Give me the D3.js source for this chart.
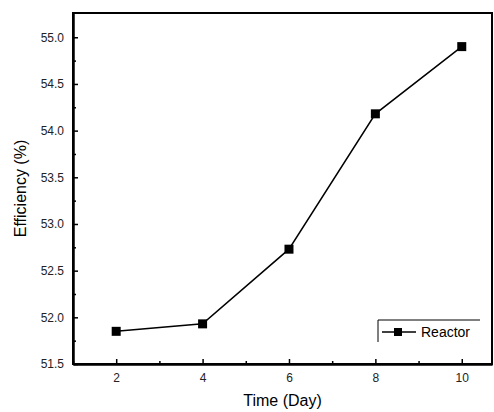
<!DOCTYPE html>
<html><head><meta charset="utf-8">
<script src="https://cdn.jsdelivr.net/npm/d3@7"></script>
<style>body{margin:0;background:#fff}</style>
</head><body><div id="plot"></div>
<script>
const days = [2, 4, 6, 8, 10];
const efficiency = [51.85, 51.93, 52.73, 54.18, 54.90];
const yTicks = [51.5, 52.0, 52.5, 53.0, 53.5, 54.0, 54.5, 55.0];
const xTicks = [2, 4, 6, 8, 10];

const W = 494, H = 412;
const margin = { top: 13, right: 2, bottom: 48, left: 73 };
const width = W - margin.left - margin.right;
const height = H - margin.top - margin.bottom;

const svg = d3.select("#plot").append("svg").attr("width", W).attr("height", H)
  .style("font-family", "Liberation Sans, Arial, sans-serif");
const g = svg.append("g").attr("transform", `translate(${margin.left},${margin.top})`);

const x = d3.scaleLinear().domain([1.0, 10.7]).range([0, width]);
const y = d3.scaleLinear().domain([51.5, 55.26]).range([height, 0]);

// minor ticks
const minorX = d3.range(1, 11, 1).filter(v => v % 2 === 1);
const minorY = d3.range(51.75, 55.2, 0.5);

g.append("g").attr("transform", `translate(0,${height})`)
  .call(d3.axisBottom(x).tickValues(xTicks).tickSizeInner(-5).tickSizeOuter(0).tickPadding(9).tickFormat(d3.format("d")));
g.append("g").attr("transform", `translate(0,${height})`)
  .call(d3.axisBottom(x).tickValues(minorX).tickSizeInner(-3).tickSizeOuter(0).tickFormat(""));
g.append("g")
  .call(d3.axisLeft(y).tickValues(yTicks).tickSizeInner(-5).tickSizeOuter(0).tickPadding(9).tickFormat(d3.format(".1f")));
g.append("g").call(d3.axisLeft(y).tickValues(minorY).tickSizeInner(-3).tickSizeOuter(0).tickFormat(""));

g.selectAll(".domain").attr("stroke-width", 2);
g.selectAll(".tick line").attr("stroke-width", 1.5);
g.selectAll(".tick text").attr("font-size", 12).attr("fill", "#222");

// frame top/right
g.append("rect").attr("width", width).attr("height", height)
  .attr("fill", "none").attr("stroke", "#000").attr("stroke-width", 2);

const pts = days.map((d, i) => [d, efficiency[i]]);
g.append("path").datum(pts)
  .attr("d", d3.line().x(d => x(d[0])).y(d => y(d[1])))
  .attr("fill", "none").attr("stroke", "#000").attr("stroke-width", 1.5);
g.selectAll(".pt").data(pts).enter().append("rect")
  .attr("x", d => x(d[0]) - 4.5).attr("y", d => y(d[1]) - 4.5)
  .attr("width", 9).attr("height", 9).attr("fill", "#000");

svg.append("text").attr("x", margin.left + width / 2).attr("y", 406)
  .attr("text-anchor", "middle").attr("font-size", 16).text("Time (Day)");
svg.append("text").attr("transform", `translate(26,${margin.top + height / 2}) rotate(-90)`)
  .attr("text-anchor", "middle").attr("font-size", 16).text("Efficiency (%)");

// legend
const lg = svg.append("g");
lg.append("path").attr("d", "M378,342V320H480").attr("fill", "none").attr("stroke", "#000").attr("stroke-width", 1);
lg.append("line").attr("x1", 382).attr("x2", 416).attr("y1", 332).attr("y2", 332).attr("stroke", "#000").attr("stroke-width", 1.5);
lg.append("rect").attr("x", 394).attr("y", 328).attr("width", 8).attr("height", 8).attr("fill", "#000");
lg.append("text").attr("x", 421).attr("y", 337).attr("font-size", 14).text("Reactor");
</script></body></html>
